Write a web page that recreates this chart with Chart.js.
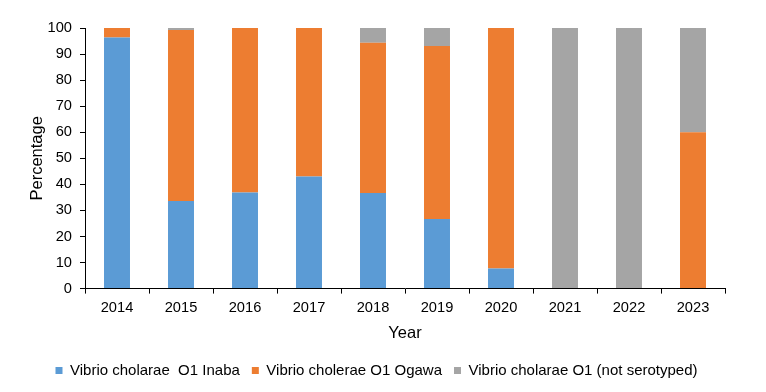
<!DOCTYPE html>
<html>
<head>
<meta charset="utf-8">
<script src="https://cdn.jsdelivr.net/npm/chart.js@4"></script>
<style>
  html, body { margin: 0; padding: 0; background: #fff; }
  #wrap { width: 766px; height: 392px; }
</style>
</head>
<body>
<div id="wrap"><canvas id="chart" width="766" height="392"></canvas></div>
<script>
const years = ['2014', '2015', '2016', '2017', '2018', '2019', '2020', '2021', '2022', '2023'];
const inaba = [96.4, 33.6, 36.9, 43.0, 36.7, 26.7, 7.7, 0, 0, 0];
const ogawa = [3.6, 65.6, 63.1, 57.0, 57.6, 66.4, 92.3, 0, 0, 60.0];
const notSerotyped = [0, 0.8, 0, 0, 5.7, 6.9, 0, 100, 100, 40.0];
const yTicks = [0, 10, 20, 30, 40, 50, 60, 70, 80, 90, 100];

const FONT = 'Liberation Sans, Arial, sans-serif';

function series(label, data, color) {
  return {
    label,
    data,
    backgroundColor: color,
    borderWidth: 0,
    categoryPercentage: 1,
    barPercentage: 0.406,
  };
}

new Chart(document.getElementById('chart'), {
  type: 'bar',
  data: {
    labels: years,
    datasets: [
      series('Vibrio cholarae  O1 Inaba', inaba, '#5b9bd5'),
      series('Vibrio cholerae O1 Ogawa', ogawa, '#ed7d31'),
      series('Vibrio cholarae O1 (not serotyped)', notSerotyped, '#a5a5a5'),
    ],
  },
  options: {
    responsive: false,
    animation: false,
    layout: { padding: { top: 28, right: 41, left: 28, bottom: 4 } },
    plugins: {
      tooltip: { enabled: false },
      legend: {
        position: 'bottom',
        labels: {
          font: { family: FONT, size: 15 },
          color: '#000',
          boxWidth: 7,
          boxHeight: 7,
          padding: 12,
        },
      },
    },
    scales: {
      x: {
        stacked: true,
        grid: { drawOnChartArea: false, drawTicks: true, tickLength: 5, color: '#000', offset: true },
        border: { display: true, color: '#000', width: 1 },
        ticks: { color: '#000', font: { family: FONT, size: 14.67 }, padding: 6, maxRotation: 0 },
        title: { display: true, text: 'Year', color: '#000', font: { family: FONT, size: 16.5 }, padding: { top: 0, bottom: 8 } },
      },
      y: {
        stacked: true,
        min: 0,
        max: 100,
        afterBuildTicks: (axis) => { axis.ticks = yTicks.map(v => ({ value: v })); },
        afterFit: (axis) => { axis.width = 57; },
        grid: { drawOnChartArea: false, drawTicks: true, tickLength: 5, color: '#000' },
        border: { display: true, color: '#000', width: 1 },
        ticks: { color: '#000', font: { family: FONT, size: 14.67 }, padding: 8 },
        title: { display: true, text: 'Percentage', color: '#000', font: { family: FONT, size: 16.5 }, padding: 0 },
      },
    },
  },
});
</script>
</body>
</html>
